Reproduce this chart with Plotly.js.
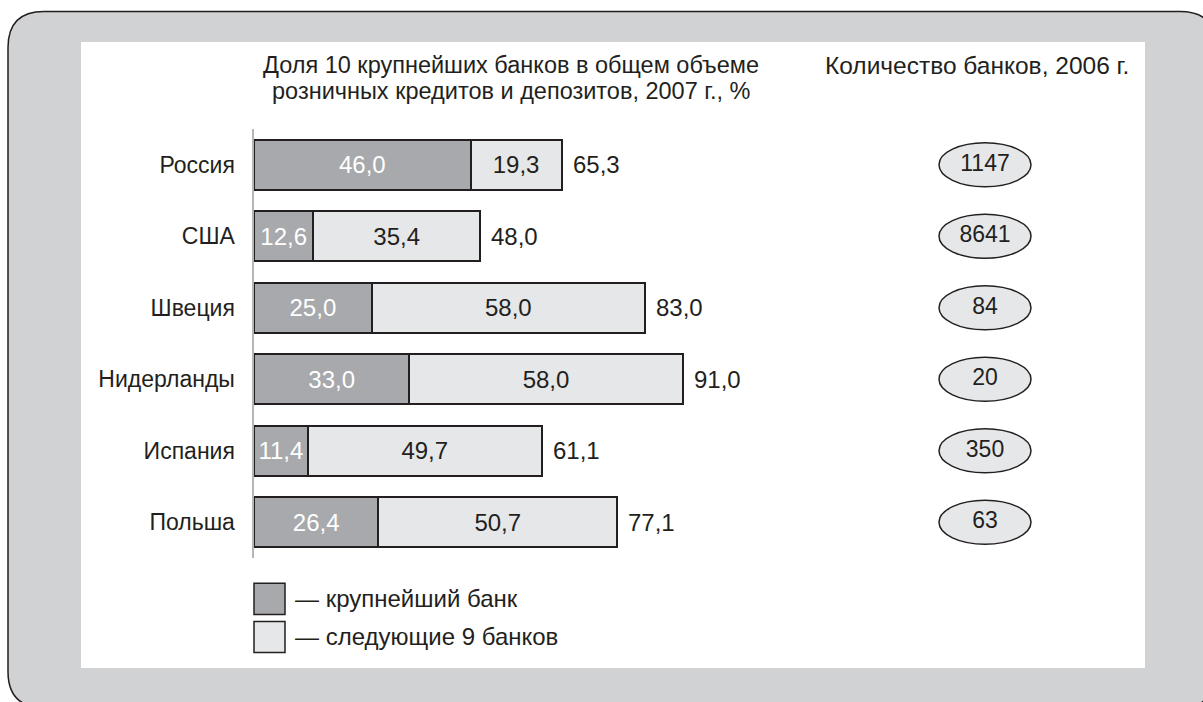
<!DOCTYPE html>
<html><head><meta charset="utf-8">
<script src="https://cdn.plot.ly/plotly-3.0.1.min.js"></script>
<style>html,body{margin:0;padding:0;background:#fff;}#chart{width:1203px;height:702px;}</style>
</head><body><div id="chart"></div>
<script>
const countries = ["Россия", "США", "Швеция", "Нидерланды", "Испания", "Польша"];
const largestBank = [46.0, 12.6, 25.0, 33.0, 11.4, 26.4];
const next9Banks = [19.3, 35.4, 58.0, 58.0, 49.7, 50.7];
const totals = [65.3, 48.0, 83.0, 91.0, 61.1, 77.1];
const bankCounts = ["1147", "8641", "84", "20", "350", "63"];
const seriesNames = ["— крупнейший банк", "— следующие 9 банков"];
const titleLeft = ["Доля 10 крупнейших банков в общем объеме", "розничных кредитов и депозитов, 2007 г., %"];
const titleRight = "Количество банков, 2006 г.";

const W = 1203, H = 702;
const L = 254, R = 0, T = 129.3, B = 144.3;
const PW = W - L - R, PH = H - T - B;
const PXPERUNIT = 4.71;
const xMax = PW / PXPERUNIT;
const ovalX = (985 - L) / PXPERUNIT;
const px = p => (p - L) / PW;
const py = p => (H - B - p) / PH;
const fmt = v => v.toFixed(1).replace('.', ',');
const FONT = "Liberation Sans, Arial, sans-serif";
const INK = "#231f20";
const DARK = "#a7a9ac", LIGHT = "#e6e7e8";

function roundRect(x0, y0, x1, y1, r) {
  const P = (x, y) => px(x) + ',' + py(y);
  return 'M' + P(x0 + r, y0) + ' L' + P(x1 - r, y0) + ' Q' + P(x1, y0) + ' ' + P(x1, y0 + r) +
    ' L' + P(x1, y1 - r) + ' Q' + P(x1, y1) + ' ' + P(x1 - r, y1) +
    ' L' + P(x0 + r, y1) + ' Q' + P(x0, y1) + ' ' + P(x0, y1 - r) +
    ' L' + P(x0, y0 + r) + ' Q' + P(x0, y0) + ' ' + P(x0 + r, y0) + ' Z';
}

const idx = countries.map((c, i) => i);

const traces = [
  {type: 'bar', orientation: 'h', y: idx, x: largestBank, name: seriesNames[0],
   marker: {color: DARK, line: {color: INK, width: 2}}, width: 0.7,
   text: largestBank.map(fmt), textposition: 'inside', insidetextanchor: 'middle',
   constraintext: 'none', textfont: {family: FONT, size: 24, color: '#ffffff'}, hoverinfo: 'skip'},
  {type: 'bar', orientation: 'h', y: idx, x: next9Banks, name: seriesNames[1],
   marker: {color: LIGHT, line: {color: INK, width: 2}}, width: 0.7,
   text: next9Banks.map(fmt), textposition: 'inside', insidetextanchor: 'middle',
   constraintext: 'none', textfont: {family: FONT, size: 24, color: INK}, hoverinfo: 'skip'},
  {type: 'scatter', mode: 'text', x: idx.map(() => ovalX), y: idx, text: bankCounts,
   textposition: 'middle center', cliponaxis: false,
   textfont: {family: FONT, size: 23, color: INK}, hoverinfo: 'skip', showlegend: false}
];

const shapes = [
  {type: 'path', xref: 'paper', yref: 'paper', layer: 'below', path: roundRect(8, 12, 1216, 707, 36),
   fillcolor: '#d1d2d4', line: {color: INK, width: 1.5}},
  {type: 'rect', xref: 'paper', yref: 'paper', layer: 'below',
   x0: px(81), x1: px(1145), y0: py(42.5), y1: py(667.5), fillcolor: '#ffffff', line: {width: 0}}
];
idx.forEach(i => {
  shapes.push({type: 'circle', xref: 'x', yref: 'y', xsizemode: 'pixel', ysizemode: 'pixel',
    xanchor: ovalX, yanchor: i, x0: -46, x1: 46, y0: -22, y1: 22, layer: 'below',
    fillcolor: LIGHT, line: {color: INK, width: 1.5}});
});
const legendColors = [DARK, LIGHT];
const legendTops = [583, 621];
legendColors.forEach((c, k) => {
  shapes.push({type: 'rect', xref: 'paper', yref: 'paper', x0: px(254), x1: px(285),
    y0: py(legendTops[k]), y1: py(legendTops[k] + 31), fillcolor: c, line: {color: INK, width: 1.5}});
});

const annotations = [];
totals.forEach((t, i) => {
  annotations.push({x: t, y: i, xref: 'x', yref: 'y', text: fmt(t), showarrow: false,
    xanchor: 'left', xshift: 9, font: {family: FONT, size: 24, color: INK}});
});
titleLeft.forEach((t, k) => {
  annotations.push({x: px(511), y: py(65 + k * 26), xref: 'paper', yref: 'paper', text: t,
    showarrow: false, xanchor: 'center', yanchor: 'middle', borderpad: 0,
    font: {family: FONT, size: 23.5, color: INK}});
});
annotations.push({x: px(977), y: py(66), xref: 'paper', yref: 'paper', text: titleRight,
  showarrow: false, xanchor: 'center', yanchor: 'middle', font: {family: FONT, size: 24.5, color: INK}});
seriesNames.forEach((s, k) => {
  annotations.push({x: px(293), y: py(legendTops[k] + 15.5), xref: 'paper', yref: 'paper', text: s,
    showarrow: false, xanchor: 'left', yanchor: 'middle', font: {family: FONT, size: 24, color: INK}});
});

const layout = {
  width: W, height: H, margin: {l: L, r: R, t: T, b: B, pad: 0},
  paper_bgcolor: '#ffffff', plot_bgcolor: 'rgba(0,0,0,0)',
  barmode: 'stack', showlegend: false, separators: ', ',
  font: {family: FONT, size: 23, color: INK},
  xaxis: {range: [0, xMax], visible: false, fixedrange: true},
  yaxis: {range: [5.5, -0.5], tickvals: idx, ticktext: countries, showline: true,
    linecolor: '#b5b6b8', linewidth: 2.5, ticks: '', ticklabelstandoff: 12, showgrid: false,
    zeroline: false, fixedrange: true, tickfont: {family: FONT, size: 23, color: INK}},
  shapes: shapes, annotations: annotations
};
Plotly.newPlot('chart', traces, layout, {displayModeBar: false, staticPlot: true});
</script></body></html>
